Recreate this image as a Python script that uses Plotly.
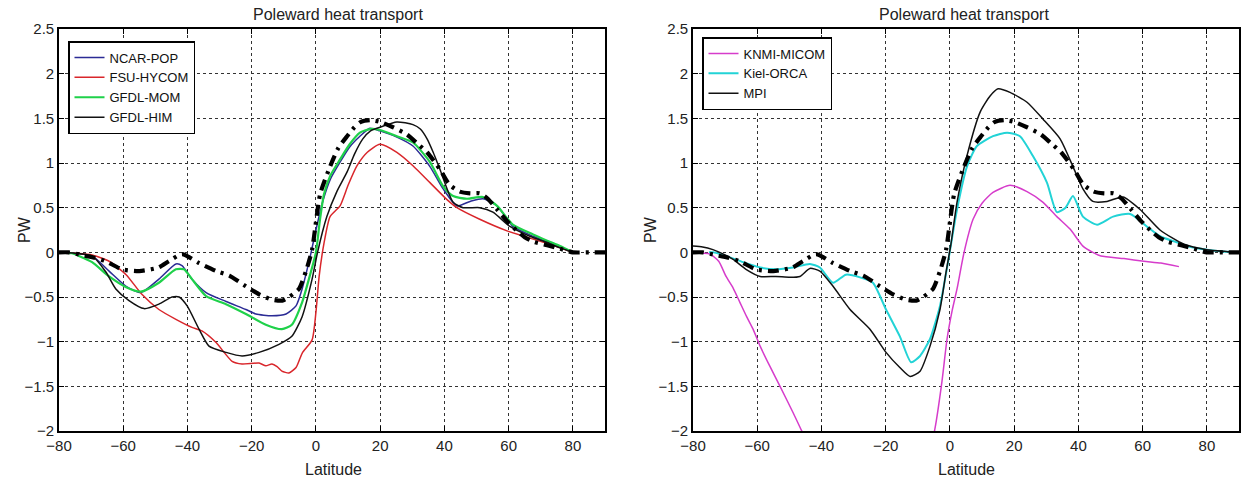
import plotly.graph_objects as go

# ---------------- data ----------------
obs_lat = [-80, -77, -73, -69, -65.4, -60.4, -55, -49, -45.8, -41.7, -36.4, -31, -27, -21.8, -17.7, -13.7,
           -10.5, -8.4, -5.3, -3.1, -1.2, 1.3, 4.4, 7, 9.7, 12, 14, 17, 20, 24, 28.3, 31.5, 34.6, 38.6,
           41.5, 44.8, 48, 51, 53.5, 56.4, 59.5, 62.6, 65, 67.6, 72, 76, 80, 85, 90]
obs_val = [0, 0, -0.03, -0.06, -0.1, -0.19, -0.21, -0.17, -0.1, -0.02, -0.12, -0.21, -0.26, -0.38, -0.47, -0.53,
           -0.54, -0.5, -0.41, -0.21, 0.03, 0.65, 0.96, 1.17, 1.3, 1.4, 1.46, 1.48, 1.46, 1.4, 1.32, 1.22, 1.12, 0.93,
           0.76, 0.68, 0.66, 0.66, 0.6, 0.48, 0.35, 0.24, 0.17, 0.12, 0.08, 0.04, 0.0, 0, 0]

ncar_lat = [-80, -75, -69.7, -64.4, -59.1, -54.5, -48.9, -43.6, -41.7, -38.6, -34.2, -28, -21.8, -18.7, -13.7,
            -9.3, -6.2, -4.3, -2.2, -1.5, 0, 2.2, 4.5, 7.5, 10.5, 13.7, 16.8, 19.9, 25.2, 30.2, 35.5, 39.6, 43.9,
            48, 52, 56.4, 61.3, 67.6, 72, 76, 80]
ncar_val = [0, -0.01, -0.04, -0.21, -0.38, -0.45, -0.30, -0.13, -0.15, -0.30, -0.45, -0.55, -0.64, -0.69, -0.71,
            -0.69, -0.60, -0.41, -0.11, 0.0, 0.25, 0.58, 0.82, 1.01, 1.18, 1.30, 1.39, 1.36, 1.29, 1.19, 0.96, 0.71,
            0.52, 0.57, 0.60, 0.52, 0.29, 0.18, 0.12, 0.06, 0.0]

fsu_lat = [-80, -75, -69.7, -64.4, -59.1, -54.2, -48.9, -43.6, -38.6, -35.5, -31.1, -26.1, -23, -17.7, -15.6,
           -13.7, -12.1, -10.6, -8.4, -6.2, -4.3, -1.2, 0, 1, 2.5, 4.4, 7.5, 10, 12.8, 16, 19.9, 25.2, 30.2, 35.5,
           40.8, 43.9, 51, 59.5, 65.7, 72, 76, 80]
fsu_val = [0, -0.01, -0.03, -0.10, -0.25, -0.47, -0.64, -0.75, -0.84, -0.88, -1.01, -1.22, -1.25, -1.24, -1.27,
           -1.25, -1.28, -1.33, -1.35, -1.29, -1.13, -0.98, -0.67, -0.27, 0.10, 0.40, 0.52, 0.75, 0.97, 1.12, 1.21,
           1.12, 0.97, 0.78, 0.59, 0.50, 0.37, 0.24, 0.17, 0.10, 0.05, 0.0]

mom_lat = [-80, -76, -73.8, -69.7, -64.4, -59.1, -54.5, -48.9, -43.6, -41.1, -38.6, -34.2, -28, -21.8, -15.6,
           -10.6, -7.5, -4.3, -2.2, 0, 1.2, 2.5, 4.5, 7.5, 10.5, 13.7, 16.8, 19.9, 25.2, 30.2, 35.5, 39.6, 42.7,
           47, 52, 56.4, 61.3, 67.6, 72, 76, 80]
mom_val = [0, -0.01, -0.04, -0.11, -0.27, -0.39, -0.44, -0.34, -0.19, -0.19, -0.30, -0.49, -0.58, -0.69, -0.81,
           -0.86, -0.81, -0.56, -0.30, 0.0, 0.35, 0.65, 0.86, 1.04, 1.21, 1.34, 1.38, 1.37, 1.30, 1.23, 1.01, 0.74,
           0.63, 0.60, 0.62, 0.52, 0.31, 0.20, 0.13, 0.07, 0.0]

him_lat = [-80, -75, -69.7, -65.4, -62.3, -58.2, -53.5, -48.9, -44.8, -42.6, -40.1, -36.4, -33.3, -28, -23,
           -17.7, -11.5, -7.5, -4.3, -1.2, 0.5, 3.4, 6.5, 9.7, 12, 14.6, 17, 19.9, 25.2, 30.2, 32.5, 34.6, 36.5,
           38.6, 42.7, 45.8, 51, 55.1, 60.4, 66.6, 72, 76, 80]
him_val = [0, -0.01, -0.04, -0.22, -0.41, -0.54, -0.63, -0.58, -0.50, -0.50, -0.60, -0.86, -1.05, -1.12, -1.16,
           -1.12, -1.03, -0.94, -0.72, -0.30, 0.0, 0.40, 0.68, 0.90, 1.10, 1.27, 1.36, 1.40, 1.46, 1.43, 1.38, 1.27,
           1.12, 0.93, 0.56, 0.50, 0.50, 0.45, 0.29, 0.18, 0.11, 0.05, 0.0]

knmi_lat = [-80, -77, -74.7, -72, -69.7, -67.5, -65.4, -63.3, -61.3, -59.1, -56, -52.9, -48.9, -46.4, -42, -35,
            -25, -15, -8, -4.7, -2.5, -0.9, 0.7, 2.2, 4.4, 7.2, 10, 13.4, 18.7, 24, 29, 33.3, 37.4, 41.4, 44.5,
            47, 54.2, 60.4, 65.7, 71.3]
knmi_val = [0, -0.01, -0.02, -0.1, -0.27, -0.4, -0.56, -0.72, -0.86, -1.05, -1.28, -1.50, -1.79, -1.98, -2.3, -2.8,
            -3.2, -3.0, -2.5, -1.98, -1.45, -0.97, -0.65, -0.41, 0.0, 0.37, 0.55, 0.67, 0.75, 0.68, 0.56, 0.40, 0.26,
            0.07, 0.0, -0.04, -0.07, -0.10, -0.12, -0.16]

kiel_lat = [-75, -73.8, -69.7, -64.4, -59.1, -54.2, -48.9, -43.6, -40.5, -36.4, -32.4, -28, -24, -19.9, -15.6,
            -12.1, -9.3, -6.2, -3.1, -0.6, 2.2, 5.3, 8.4, 13.4, 17.8, 21.8, 25.8, 30.2, 33.3, 36, 38.3, 41.4, 45.8,
            50.8, 56.1, 61.3, 65.4, 70, 75, 80, 85, 90]
kiel_val = [0.0, 0.0, -0.04, -0.11, -0.17, -0.19, -0.17, -0.13, -0.17, -0.34, -0.25, -0.28, -0.34, -0.64, -0.94,
            -1.23, -1.16, -0.97, -0.60, -0.11, 0.48, 0.96, 1.19, 1.30, 1.34, 1.30, 1.08, 0.78, 0.45, 0.50, 0.63, 0.40,
            0.31, 0.40, 0.43, 0.29, 0.18, 0.12, 0.06, 0.03, 0.01, 0.0]

mpi_lat = [-80, -77, -73.8, -70.5, -67.5, -63.5, -59.1, -54.2, -49.8, -46.7, -43.6, -40.5, -36.4, -31.1, -24.9,
           -19.9, -15.6, -12.4, -9.3, -6.2, -3.1, -1.2, 0.3, 2.2, 5.3, 9.4, 12.5, 15, 18.7, 24, 29, 34.3, 38.3, 41.4,
           44.5, 48.9, 53.9, 59.2, 65.4, 72.9, 80, 86, 90]
mpi_val = [0.07, 0.06, 0.03, -0.02, -0.08, -0.19, -0.27, -0.27, -0.28, -0.27, -0.18, -0.21, -0.38, -0.64, -0.86,
           -1.12, -1.29, -1.39, -1.33, -1.05, -0.64, -0.22, 0.09, 0.56, 1.08, 1.57, 1.75, 1.83, 1.79, 1.68, 1.49, 1.27,
           0.96, 0.71, 0.57, 0.57, 0.62, 0.48, 0.25, 0.09, 0.03, 0.01, 0.0]

x_ticks = [-80, -60, -40, -20, 0, 20, 40, 60, 80]
y_ticks = [-2, -1.5, -1, -0.5, 0, 0.5, 1, 1.5, 2, 2.5]
y_tick_text = ["\u22122", "\u22121.5", "\u22121", "\u22120.5", "0", "0.5", "1", "1.5", "2", "2.5"]
x_tick_text = ["\u221280", "\u221260", "\u221240", "\u221220", "0", "20", "40", "60", "80"]

title_text = "Poleward heat transport"
xlabel = "Latitude"
ylabel = "PW"

# ---------------- figure ----------------
W, H = 1244, 482
FONT = "Liberation Sans, Arial, sans-serif"
fig = go.Figure()

OBS_DASH = "11px,6px,3px,6px"

def add(x, y, name, color, width, xa, ya, legend, showlegend=True, dash="solid"):
    fig.add_trace(go.Scatter(x=x, y=y, name=name, mode="lines",
                             line=dict(color=color, width=width, dash=dash, shape="spline", smoothing=0.6),
                             xaxis=xa, yaxis=ya, legend=legend, showlegend=showlegend))

# left panel
add(ncar_lat, ncar_val, "NCAR-POP", "#2b2b95", 1.5, "x", "y", "legend")
add(fsu_lat, fsu_val, "FSU-HYCOM", "#d9262b", 1.5, "x", "y", "legend")
add(mom_lat, mom_val, "GFDL-MOM", "#1fd14a", 2.2, "x", "y", "legend")
add(him_lat, him_val, "GFDL-HIM", "#111111", 1.5, "x", "y", "legend")
add(obs_lat, obs_val, "obs", "#000000", 4.2, "x", "y", "legend", showlegend=False, dash=OBS_DASH)

# right panel
add(knmi_lat, knmi_val, "KNMI-MICOM", "#d63ccb", 1.5, "x2", "y2", "legend2")
add(kiel_lat, kiel_val, "Kiel-ORCA", "#22d3d6", 2.0, "x2", "y2", "legend2")
add(mpi_lat, mpi_val, "MPI", "#111111", 1.5, "x2", "y2", "legend2")
add(obs_lat, obs_val, "obs", "#000000", 4.2, "x2", "y2", "legend2", showlegend=False, dash=OBS_DASH)

# pixel -> paper helpers
def px(x):
    return x / W
def py(y):
    return 1 - y / H

left_dom = [px(59), px(605)]
right_dom = [px(693), px(1239)]
y_dom = [py(431), py(29)]

axis_common = dict(
    showline=True, linecolor="#000", linewidth=1.6, mirror="ticks",
    ticks="inside", ticklen=5, tickwidth=1.4, tickcolor="#000",
    showgrid=True, gridcolor="#333", gridwidth=1, griddash="dot",
    zeroline=False, automargin=False, tickfont=dict(family=FONT, size=15, color="#222"),
)

fig.update_layout(
    width=W, height=H,
    margin=dict(l=0, r=0, t=0, b=0, autoexpand=False),
    paper_bgcolor="white", plot_bgcolor="white",
    font=dict(family=FONT, color="#222"),
    xaxis=dict(domain=left_dom, anchor="y", range=[-80, 90], tickvals=x_ticks, ticktext=x_tick_text, **axis_common),
    yaxis=dict(domain=y_dom, anchor="x", range=[-2, 2.5], tickvals=y_ticks, ticktext=y_tick_text, **axis_common),
    xaxis2=dict(domain=right_dom, anchor="y2", range=[-80, 90], tickvals=x_ticks, ticktext=x_tick_text, **axis_common),
    yaxis2=dict(domain=y_dom, anchor="x2", range=[-2, 2.5], tickvals=y_ticks, ticktext=y_tick_text, **axis_common),
    legend=dict(x=px(68), y=py(41), xanchor="left", yanchor="top",
                bgcolor="white", bordercolor="#000", borderwidth=1.5,
                font=dict(family=FONT, size=13, color="#111"), tracegroupgap=0, itemwidth=30),
    legend2=dict(x=px(702), y=py(37), xanchor="left", yanchor="top",
                 bgcolor="white", bordercolor="#000", borderwidth=1.5,
                 font=dict(family=FONT, size=13, color="#111"), tracegroupgap=0, itemwidth=30),
    showlegend=True,
)

ann = []
for cx in (338, 964):
    ann.append(dict(text=title_text, x=px(cx), y=py(14), xref="paper", yref="paper",
                    xanchor="center", yanchor="middle",
                    showarrow=False, font=dict(family=FONT, size=16, color="#222")))
for cx in (333, 966):
    ann.append(dict(text=xlabel, x=px(cx), y=py(469), xref="paper", yref="paper",
                    xanchor="center", yanchor="middle",
                    showarrow=False, font=dict(family=FONT, size=16, color="#222")))
for cx in (24, 650):
    ann.append(dict(text=ylabel, x=px(cx), y=py(230), xref="paper", yref="paper", textangle=-90,
                    xanchor="center", yanchor="middle",
                    showarrow=False, font=dict(family=FONT, size=16, color="#222")))
fig.update_layout(annotations=ann)

fig.write_html("out.html", config={"displayModeBar": False},
               post_script="document.body.style.margin='0px';")
